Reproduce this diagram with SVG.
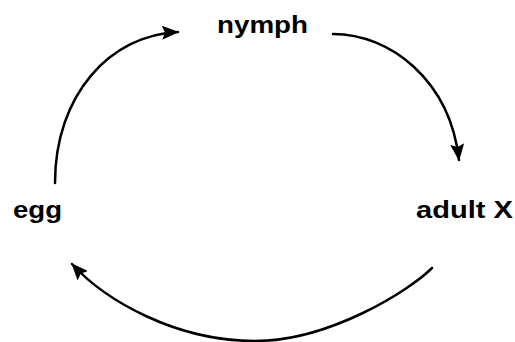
<svg xmlns="http://www.w3.org/2000/svg" width="515" height="342" viewBox="0 0 515 342">
<style>
.lbl{font-family:"Liberation Sans",Arial,sans-serif;font-weight:bold;font-size:23px;fill:#000}
.arc{fill:none;stroke:#000;stroke-width:2.5;stroke-linecap:round}
</style>
<defs>
<marker id="ah" markerUnits="userSpaceOnUse" markerWidth="18" markerHeight="14" viewBox="0 0 18 14" refX="16" refY="7" orient="auto">
<path d="M0,0 L17,7 L0,14 L3,7 Z" fill="#000"/>
</marker>
</defs>
<rect width="515" height="342" fill="#fff"/>
<g id="connectors">
<path class="arc" d="M55,183 C55,95 110,35 178,32" marker-end="url(#ah)"/>
<path class="arc" d="M333,34 C390,34 450,80 459,160" marker-end="url(#ah)"/>
<path class="arc" d="M432,268 C410,290 330,341 255,341 C175,341 105,300 72,264" marker-end="url(#ah)"/>
</g>
<g id="nymph"><text class="lbl" x="217" y="33" textLength="91" lengthAdjust="spacingAndGlyphs">nymph</text></g>
<g id="egg"><text class="lbl" x="13" y="218" textLength="49" lengthAdjust="spacingAndGlyphs">egg</text></g>
<g id="adult"><text class="lbl" x="416" y="218" textLength="97" lengthAdjust="spacingAndGlyphs">adult X</text></g>
</svg>
